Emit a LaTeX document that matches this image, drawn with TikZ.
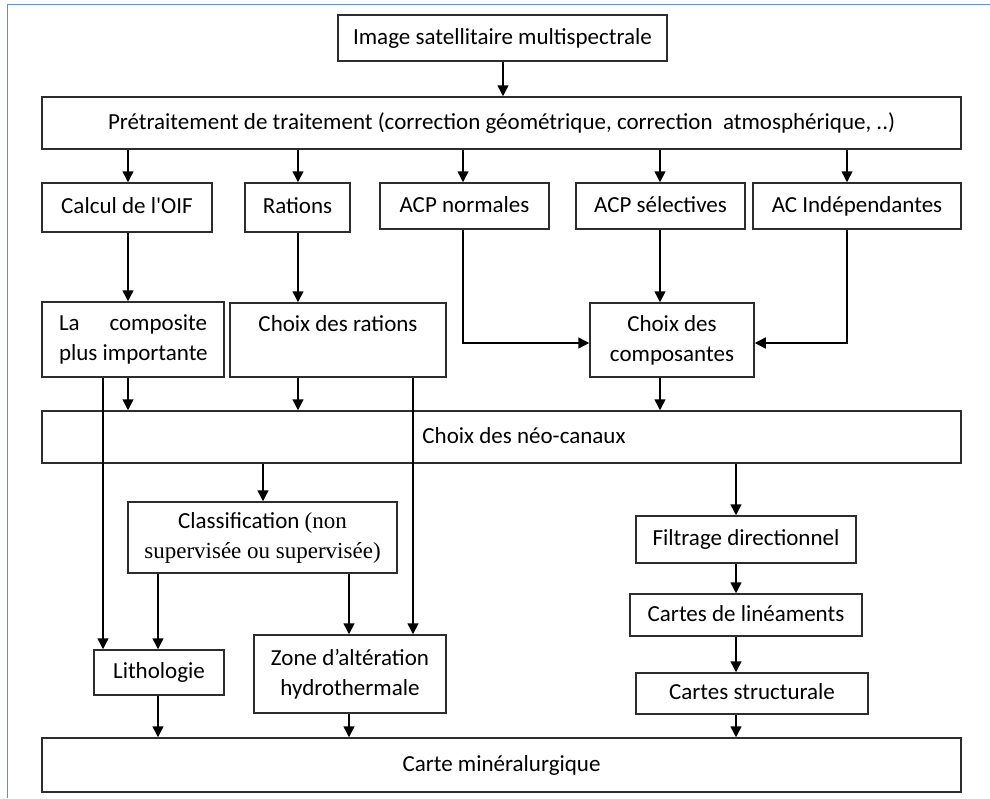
\documentclass[tikz,border=0pt]{standalone}
\usepackage{fontspec}
\setmainfont{Carlito}
\newfontfamily\tnr{Liberation Serif}
\usetikzlibrary{arrows.meta,calc}
\definecolor{frameblue}{RGB}{105,140,200}
\definecolor{boxline}{RGB}{45,45,45}
\tikzset{
  box/.style={draw=boxline, line width=1.5pt, inner sep=0pt, align=center, font=\fontsize{23}{30}\selectfont},
  one/.style={text height=16pt, text depth=4pt},
  lbl/.style={inner sep=0pt, align=center, font=\fontsize{23}{30}\selectfont},
  arr/.style={draw=black, line width=1.5pt, -{Triangle[length=11pt,width=11pt]}},
  seg/.style={draw=black, line width=1.5pt}
}
\begin{document}
\begin{tikzpicture}[x=1pt,y=-1pt]
\useasboundingbox (0,0) rectangle (990,798);
% frame
\draw[frameblue, line width=1.5pt] (990,4.5) -- (7.5,4.5) -- (7.5,798);
% boxes
\node[box, one, minimum width=329pt, minimum height=46pt] (img) at (502.5,38) {Image satellitaire multispectrale};
\node[box, one, minimum width=919pt, minimum height=52pt] (pre) at (501.5,123) {Prétraitement de traitement (correction géométrique, correction\ \ atmosphérique, ..)};
\node[box, one, minimum width=170pt, minimum height=49pt] (oif) at (127,207.5) {Calcul de l\textquotesingle OIF};
\node[box, one, minimum width=105pt, minimum height=49pt] (rat) at (297.5,207.5) {Rations};
\node[box, one, minimum width=169pt, minimum height=46pt] (acpn) at (464.5,206) {ACP normales};
\node[box, one, minimum width=169pt, minimum height=46pt] (acps) at (660.5,206) {ACP sélectives};
\node[box, one, minimum width=208pt, minimum height=46pt] (aci) at (857,206) {AC Indépendantes};
\node[box, minimum width=182pt, minimum height=75pt] (comp) at (133,339.5) {\makebox[148pt][s]{La composite}\\\makebox[148pt][l]{plus importante}};
\node[box, minimum width=216pt, minimum height=74pt] (crat) at (338,340) {Choix des rations\\[2pt]~};
\node[box, minimum width=164pt, minimum height=74pt] (ccomp) at (672,340) {Choix des\\composantes};
\node[box, minimum width=919pt, minimum height=52pt] (neo) at (501.5,437) {};
\node[lbl, one] (neotxt) at (524,437) {Choix des néo-canaux};
\node[box, minimum width=269pt, minimum height=71pt] (cls) at (262.5,537.5) {Classification {\tnr(non}\\{\tnr supervisée ou supervisée)}};
\node[box, one, minimum width=130pt, minimum height=45pt] (lith) at (159,672.5) {Lithologie};
\node[box, minimum width=192pt, minimum height=78pt] (zone) at (350,674) {Zone d’altération\\hydrothermale};
\node[box, one, minimum width=220pt, minimum height=47pt] (filt) at (746,539.5) {Filtrage directionnel};
\node[box, one, minimum width=232pt, minimum height=42pt] (lin) at (746,615) {Cartes de linéaments};
\node[box, one, minimum width=232pt, minimum height=41pt] (str) at (752,693.5) {Cartes structurale};
\node[box, one, minimum width=919pt, minimum height=54pt] (carte) at (501.5,765) {Carte minéralurgique};
% x positions of connectors
\coordinate (xa) at (128,0);
\coordinate (xb) at (298,0);
\coordinate (xc) at (463,0);
\coordinate (xd) at (660,0);
\coordinate (xe) at (847,0);
\coordinate (xf) at (103,0);
\coordinate (xg) at (413,0);
\coordinate (xh) at (263,0);
\coordinate (xi) at (158,0);
\coordinate (xj) at (349,0);
\coordinate (xk) at (736,0);
\coordinate (xm) at (503,0);
\coordinate (yrow) at (0,343);
% connectors
\draw[arr] (xm |- img.south) -- (xm |- pre.north);
\draw[arr] (xa |- pre.south) -- (xa |- oif.north);
\draw[arr] (xb |- pre.south) -- (xb |- rat.north);
\draw[arr] (xc |- pre.south) -- (xc |- acpn.north);
\draw[arr] (xd |- pre.south) -- (xd |- acps.north);
\draw[arr] (xe |- pre.south) -- (xe |- aci.north);
\draw[arr] (xa |- oif.south) -- (xa |- comp.north);
\draw[arr] (xb |- rat.south) -- (xb |- crat.north);
\draw[arr] (xc |- acpn.south) -- (xc |- yrow) -- (ccomp.west |- yrow);
\draw[arr] (xd |- acps.south) -- (xd |- ccomp.north);
\draw[arr] (xe |- aci.south) -- (xe |- yrow) -- (ccomp.east |- yrow);
\draw[arr] (xa |- comp.south) -- (xa |- neo.north);
\draw[arr] (xb |- crat.south) -- (xb |- neo.north);
\draw[arr] (xd |- ccomp.south) -- (xd |- neo.north);
\draw[arr] (xf |- comp.south) -- (xf |- lith.north);
\draw[arr] (xg |- crat.south) -- (xg |- zone.north);
\draw[arr] (xh |- neo.south) -- (xh |- cls.north);
\draw[arr] (xi |- cls.south) -- (xi |- lith.north);
\draw[arr] (xj |- cls.south) -- (xj |- zone.north);
\draw[arr] (xi |- lith.south) -- (xi |- carte.north);
\draw[arr] (xj |- zone.south) -- (xj |- carte.north);
\draw[arr] (xk |- neo.south) -- (xk |- filt.north);
\draw[arr] (xk |- filt.south) -- (xk |- lin.north);
\draw[arr] (xk |- lin.south) -- (xk |- str.north);
\draw[arr] (xk |- str.south) -- (xk |- carte.north);
\end{tikzpicture}
\end{document}
